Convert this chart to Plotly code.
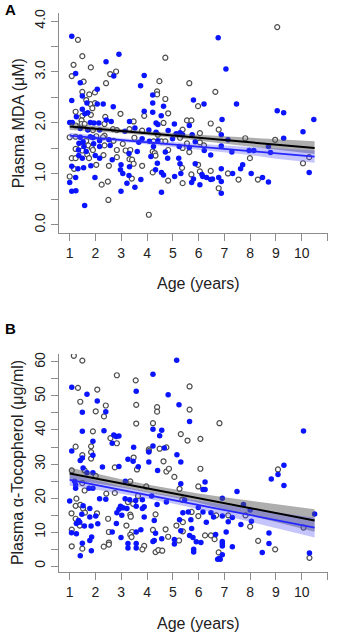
import plotly.graph_objects as go
from plotly.subplots import make_subplots

# ---------------- Panel A : Plasma MDA ----------------
a_gray_age = [1.32,1.49,1.15,1.82,1.08,2.57,2.80,1.54,2.41,1.49,1.76,1.98,1.64,1.81,1.98,1.88,1.23,1.82,1.49,2.38,2.97,1.23,1.46,1.46,1.58,2.35,3.48,1.90,2.68,2.83,3.32,1.00,1.23,2.03,2.35,2.70,3.51,1.64,2.29,1.42,1.72,2.35,3.06,1.23,1.49,1.86,1.90,2.83,3.17,3.35,1.08,1.23,1.68,1.75,2.31,2.83,3.32,3.42,1.17,2.03,2.52,3.48,1.00,3.41,2.48,2.24,2.50,
              4.71,4.48,5.64,6.65,4.39,4.39,4.71,5.98,4.82,3.89,5.55,5.72,4.64,6.47,6.78,5.38,3.81,4.42,6.05,5.28,4.25,4.56,4.71,5.55,6.05,6.21,5.38,4.22,4.82,5.64,4.30,4.33,3.81,5.36,5.98,4.22,6.05,6.47,5.72,4.82,5.38,6.78,4.07,
              9.05,7.81,8.97,7.99,10.29,10.05,7.14,7.55,8.30]
a_gray_mda = [3.63,3.31,3.14,3.09,2.92,2.96,3.01,2.81,2.78,2.61,2.56,2.60,2.45,2.37,2.39,2.29,2.22,2.16,2.14,2.12,2.18,1.95,2.05,1.98,1.98,1.98,2.03,1.86,1.88,1.86,1.88,1.72,1.73,1.74,1.75,1.65,1.71,1.65,1.72,1.54,1.56,1.56,1.59,1.49,1.46,1.51,1.47,1.47,1.46,1.47,1.31,1.31,1.38,1.31,1.37,1.33,1.29,1.28,1.10,1.18,1.16,1.20,0.95,0.91,0.85,0.79,0.49,
              3.28,2.82,2.78,2.61,2.62,2.56,2.47,2.33,2.19,2.14,2.05,2.05,2.00,1.99,1.87,1.87,1.85,1.77,1.80,1.71,1.64,1.64,1.64,1.60,1.62,1.56,1.51,1.44,1.47,1.43,1.41,1.36,1.16,1.12,1.18,1.03,1.05,1.06,0.99,0.87,0.82,0.72,0.20,
              3.88,1.70,1.67,1.31,1.33,1.21,1.01,0.89,0.89]

a_blue_age = [1.08,2.91,1.23,2.41,2.71,1.41,2.07,1.49,1.08,1.67,2.07,2.30,2.69,1.49,1.70,1.59,2.42,1.26,1.00,1.10,1.80,1.94,2.13,2.61,3.32,1.41,1.70,2.16,3.14,3.53,1.41,1.80,1.90,2.52,3.68,1.52,1.36,2.16,1.55,1.93,2.57,1.34,1.64,2.16,3.30,3.62,1.35,1.49,1.99,2.16,2.65,1.08,1.32,1.54,1.82,2.99,3.32,2.97,3.06,3.30,1.23,1.98,1.00,3.22,3.53,1.08,1.24,2.99,1.58,
              6.76,3.89,3.75,4.22,5.80,4.22,4.64,6.21,3.89,4.22,4.55,4.35,4.42,5.06,5.64,4.07,4.35,4.82,5.13,5.28,5.38,5.75,3.81,4.09,4.42,4.99,5.87,4.25,5.25,5.64,6.22,4.71,4.15,4.80,5.23,6.47,4.40,5.28,5.87,4.33,4.56,4.64,5.31,6.13,6.16,6.31,5.07,3.76,5.80,6.47,6.54,6.78,5.73,6.05,4.56,
              7.06,7.47,9.05,9.30,10.47,6.91,10.05,6.88,7.14,9.30,6.88,8.71,7.29,7.96,8.14,8.79,7.71,6.88,7.63,10.29,7.32,8.04,6.88,8.48,8.71,6.88]
a_blue_mda = [3.70,3.35,2.97,3.20,2.92,2.79,2.66,2.53,2.44,2.39,2.37,2.37,2.32,2.27,2.20,2.18,2.06,2.12,2.01,2.01,2.01,2.00,2.00,2.03,2.03,1.89,1.86,1.86,1.84,1.90,1.72,1.73,1.71,1.67,1.62,1.63,1.60,1.65,1.54,1.59,1.56,1.47,1.44,1.54,1.40,1.44,1.36,1.31,1.36,1.31,1.28,1.15,1.10,1.12,1.16,1.18,1.14,1.08,1.01,0.97,0.93,0.93,0.83,0.82,0.74,0.66,0.67,0.66,0.38,
              3.67,2.93,2.73,2.55,2.45,2.39,2.33,2.37,2.23,2.21,2.14,2.00,1.97,1.98,1.95,1.86,1.82,1.85,1.79,1.81,1.77,1.77,1.69,1.64,1.65,1.69,1.63,1.54,1.54,1.52,1.46,1.43,1.34,1.31,1.31,1.37,1.21,1.20,1.20,1.08,1.03,0.98,1.01,0.99,0.95,0.93,0.95,0.89,0.90,0.89,0.90,0.93,0.83,0.79,0.64,
              3.06,2.37,2.24,2.20,2.07,2.07,1.83,1.77,1.67,1.70,1.55,1.54,1.43,1.46,1.46,1.42,1.18,1.10,1.10,1.03,1.01,1.01,0.85,0.93,0.84,0.62]

# regression fits with 95% bands
fit_age = [1, 2, 3, 4, 5, 6, 7, 8, 9, 10.5]
a_gray_fit = [1.93, 1.886, 1.842, 1.798, 1.754, 1.71, 1.666, 1.622, 1.578, 1.51]
a_gray_hi = [2.00, 1.94, 1.88, 1.84, 1.80, 1.77, 1.74, 1.71, 1.68, 1.64]
a_gray_lo = [1.86, 1.84, 1.80, 1.76, 1.71, 1.66, 1.60, 1.54, 1.48, 1.39]
a_blue_fit = [1.75, 1.707, 1.664, 1.62, 1.577, 1.534, 1.49, 1.448, 1.405, 1.34]
a_blue_hi = [1.81, 1.75, 1.70, 1.66, 1.62, 1.59, 1.56, 1.53, 1.51, 1.46]
a_blue_lo = [1.69, 1.66, 1.63, 1.58, 1.53, 1.48, 1.42, 1.37, 1.30, 1.22]

# ---------------- Panel B : Plasma alpha-tocopherol ----------------
b_gray_age = [1.16,1.49,2.83,1.32,2.07,1.41,2.40,2.01,3.58,3.58,1.90,2.58,2.83,1.23,1.83,1.83,1.49,1.83,2.75,3.61,1.08,1.58,2.01,3.35,1.49,1.58,1.26,2.42,2.75,3.65,1.23,1.41,1.07,1.52,1.59,2.06,3.26,3.46,3.35,3.37,2.49,1.23,1.39,3.20,1.08,2.52,3.42,3.35,3.40,2.52,2.52,2.32,1.08,1.49,3.56,2.33,3.48,
              5.65,4.39,4.39,5.65,4.23,5.31,6.07,5.57,4.07,4.07,4.49,4.75,4.64,4.75,4.85,5.06,6.07,5.99,5.26,5.37,3.97,5.73,5.99,4.33,5.14,5.39,6.68,4.23,4.72,5.39,6.25,6.48,4.82,5.24,3.89,3.82,4.33,4.44,4.59,
              6.81,9.08,7.82,7.15,8.00,10.07,8.31,8.97,10.30,6.78,6.62]
b_gray_toc = [61.8,60.4,56.1,52.4,51.9,48.3,47.2,45.5,47.4,41.9,39.6,37.6,36.1,35.1,35.2,33.5,32.6,31.6,29.0,28.4,28.1,28.1,26.5,24.9,24.4,22.2,19.8,21.3,21.5,20.6,17.7,18.0,15.5,16.9,15.7,15.5,18.8,18.3,15.1,14.5,13.9,13.9,11.9,11.9,10.7,10.0,10.0,9.2,8.5,6.9,6.3,5.7,5.8,5.1,54.6,44.0,31.9,
              52.8,46.7,45.4,46.0,42.0,38.8,37.4,36.9,34.3,33.8,34.5,34.9,30.8,27.8,28.6,26.2,28.6,23.4,22.7,19.5,23.4,15.9,14.7,15.2,11.9,12.9,14.9,10.6,10.8,10.2,9.0,9.0,8.6,7.5,5.9,4.9,4.1,4.7,4.5,
              42.0,28.4,14.9,14.9,11.6,11.3,7.4,4.9,2.4,4.0,7.9]

b_blue_age = [1.08,1.67,3.58,2.07,2.40,1.49,1.49,2.33,2.71,2.91,2.80,1.90,2.65,3.48,1.08,3.26,1.41,1.49,2.91,3.46,1.52,1.67,1.90,2.27,3.16,1.19,1.23,1.23,1.75,1.90,1.00,2.16,2.40,3.15,3.33,3.56,1.52,1.78,1.47,1.78,2.01,2.97,3.07,2.91,3.22,2.83,3.02,3.58,1.34,1.39,1.26,1.57,1.83,2.09,2.81,1.26,1.07,2.65,3.58,1.85,1.78,2.99,1.49,3.26,3.26,3.58,3.58,1.84,1.41,1.90,3.66,
              5.15,4.23,4.82,5.24,5.65,4.23,4.57,4.49,4.23,4.67,5.16,4.07,5.31,4.41,5.31,6.25,6.17,6.25,4.18,5.46,3.82,4.75,4.39,5.39,5.60,5.99,6.17,6.48,3.89,3.82,3.89,4.28,5.26,5.70,6.30,6.58,3.76,4.33,5.31,5.73,5.65,5.78,6.66,4.28,4.57,5.06,5.06,5.91,6.09,4.23,5.81,5.81,6.74,4.07,
              10.07,9.31,9.08,8.82,9.31,7.49,6.92,7.74,8.00,10.50,6.92,7.31,7.15,8.05,7.64,7.07,8.73,6.92,6.92,8.73,6.92,7.31,8.47,6.92,10.30,6.84,6.80]
b_blue_toc = [52.6,50.5,51.4,48.5,45.4,45.2,39.6,39.8,38.5,38.2,38.1,36.7,36.1,34.9,33.8,31.4,31.0,31.8,29.3,30.8,28.8,27.4,27.4,29.1,24.9,24.9,23.9,22.9,22.9,22.9,19.1,19.8,19.6,19.8,19.5,19.3,17.7,16.9,15.2,14.4,14.7,17.6,17.1,16.7,16.9,15.7,14.9,17.6,13.4,12.9,12.5,11.8,11.8,12.4,12.5,9.5,9.8,10.0,10.0,8.5,7.5,8.4,6.7,6.6,5.3,6.6,5.3,4.5,3.0,32.6,29.2,
              60.5,56.4,50.4,47.4,42.5,40.2,39.9,38.3,35.3,34.7,32.7,30.6,30.6,28.1,24.2,24.7,22.5,22.5,20.6,19.4,19.5,18.8,18.1,15.7,15.9,17.2,15.9,15.7,17.4,16.9,14.4,13.4,13.6,13.6,12.9,14.4,10.7,9.6,10.4,11.0,9.0,8.4,9.3,7.5,8.0,7.8,6.5,7.1,6.9,7.2,4.9,4.1,2.0,33.5,
              39.7,29.6,26.9,25.6,23.7,21.9,19.9,18.1,16.5,15.3,14.7,14.3,13.0,13.2,12.2,10.0,9.7,7.2,6.6,6.6,5.9,5.7,4.0,3.3,3.8,2.0,2.2]

b_gray_fit = [27.2, 25.75, 24.3, 22.85, 21.4, 19.95, 18.5, 17.05, 15.6, 13.4]
b_gray_hi = [29.0, 27.15, 25.5, 23.95, 22.55, 21.3, 20.2, 19.15, 18.2, 16.7]
b_gray_lo = [25.4, 24.35, 23.1, 21.75, 20.25, 18.6, 16.8, 14.95, 13.0, 10.1]
b_blue_fit = [25.3, 23.83, 22.36, 20.89, 19.42, 17.95, 16.48, 15.01, 13.54, 11.3]
b_blue_hi = [27.0, 25.18, 23.46, 21.89, 20.47, 19.2, 18.03, 16.91, 15.84, 14.2]
b_blue_lo = [23.6, 22.48, 21.26, 19.89, 18.37, 16.7, 14.93, 13.11, 11.24, 8.4]

x_tickvals = list(range(1, 12))
x_ticktext = [str(v) for v in range(1, 11)] + [""]
a_tickvals = [0, 0.5, 1, 1.5, 2, 2.5, 3, 3.5, 4]
a_ticktext = ["0.0", "", "1.0", "", "2.0", "", "3.0", "", "4.0"]
b_tickvals = list(range(0, 61, 5))
b_ticktext = [str(v) if v % 10 == 0 else "" for v in b_tickvals]

BLUE = "#0a14ff"
GRAY_EDGE = "#4d4d4d"

fig = make_subplots(rows=2, cols=1)


def add_panel(row, g_age, g_val, b_age, b_val, g_fit, g_hi, g_lo, bl_fit, bl_hi, bl_lo):
    fig.add_trace(go.Scatter(x=g_age, y=g_val, mode="markers",
                             marker=dict(size=5, color="white", line=dict(color=GRAY_EDGE, width=1.2)),
                             showlegend=False, hoverinfo="skip"), row=row, col=1)
    fig.add_trace(go.Scatter(x=b_age, y=b_val, mode="markers",
                             marker=dict(size=5.5, color=BLUE, line=dict(width=0)),
                             showlegend=False, hoverinfo="skip"), row=row, col=1)
    fig.add_trace(go.Scatter(x=fit_age + fit_age[::-1], y=g_hi + g_lo[::-1], fill="toself",
                             fillcolor="rgba(85,85,85,0.48)", line=dict(width=0), mode="lines",
                             showlegend=False, hoverinfo="skip"), row=row, col=1)
    fig.add_trace(go.Scatter(x=fit_age + fit_age[::-1], y=bl_hi + bl_lo[::-1], fill="toself",
                             fillcolor="rgba(80,80,245,0.33)", line=dict(width=0), mode="lines",
                             showlegend=False, hoverinfo="skip"), row=row, col=1)
    fig.add_trace(go.Scatter(x=fit_age, y=bl_fit, mode="lines", line=dict(color="#2626ff", width=1.8),
                             showlegend=False, hoverinfo="skip"), row=row, col=1)
    fig.add_trace(go.Scatter(x=fit_age, y=g_fit, mode="lines", line=dict(color="black", width=2),
                             showlegend=False, hoverinfo="skip"), row=row, col=1)


add_panel(1, a_gray_age, a_gray_mda, a_blue_age, a_blue_mda,
          a_gray_fit, a_gray_hi, a_gray_lo, a_blue_fit, a_blue_hi, a_blue_lo)
add_panel(2, b_gray_age, b_gray_toc, b_blue_age, b_blue_toc,
          b_gray_fit, b_gray_hi, b_gray_lo, b_blue_fit, b_blue_hi, b_blue_lo)

axis_common = dict(showgrid=False, zeroline=False, showline=True, linecolor="#8c8c8c", linewidth=1.3,
                   ticks="outside", ticklen=7, tickcolor="#8c8c8c", tickwidth=1.3, automargin=False,
                   tickfont=dict(size=14, color="#222222"))

fig.update_xaxes(**axis_common, range=[0.585, 11.02], tickvals=x_tickvals, ticktext=x_ticktext)
fig.update_yaxes(**axis_common, tickangle=-90)
fig.update_yaxes(range=[-0.163, 4.157], tickvals=a_tickvals, ticktext=a_ticktext, row=1, col=1)
fig.update_yaxes(range=[-1.76, 62.35], tickvals=b_tickvals, ticktext=b_ticktext, row=2, col=1)

fig.update_layout(
    width=340, height=634,
    margin=dict(l=59, r=12, t=13, b=62, autoexpand=False),
    paper_bgcolor="white", plot_bgcolor="white",
    font=dict(family="Liberation Sans, Arial, sans-serif", color="#222222"),
    xaxis=dict(domain=[0, 1]), xaxis2=dict(domain=[0, 1]),
    yaxis=dict(domain=[0.606, 1.0]), yaxis2=dict(domain=[0.0, 0.390]),
)

ann_font = dict(family="Liberation Sans, Arial, sans-serif", size=16, color="#222222")
annotations = [
    dict(text="<b>A</b>", x=-0.208, y=1.007, xref="paper", yref="paper", xanchor="left", yanchor="middle",
         showarrow=False, font=dict(family="Liberation Sans, Arial, sans-serif", size=15, color="black")),
    dict(text="<b>B</b>", x=-0.208, y=(572 - 329) / 559, xref="paper", yref="paper", xanchor="left",
         yanchor="middle", showarrow=False,
         font=dict(family="Liberation Sans, Arial, sans-serif", size=15, color="black")),
    dict(text="Plasma MDA (μM)", x=-0.152, y=0.803, xref="paper", yref="paper", textangle=-90,
         xanchor="center", yanchor="middle", showarrow=False, font=ann_font),
    dict(text="Plasma α-Tocopherol (μg/ml)", x=-0.152, y=0.195, xref="paper", yref="paper", textangle=-90,
         xanchor="center", yanchor="middle", showarrow=False, font=ann_font),
    dict(text="Age (years)", x=0.519, y=(572 - 283) / 559, xref="paper", yref="paper",
         xanchor="center", yanchor="middle", showarrow=False, font=ann_font),
    dict(text="Age (years)", x=0.519, y=(572 - 623) / 559, xref="paper", yref="paper",
         xanchor="center", yanchor="middle", showarrow=False, font=ann_font),
]
fig.update_layout(annotations=annotations)

fig.write_html("out.html", config={"displayModeBar": False},
               post_script="document.body.style.margin='0px';document.body.style.overflow='hidden';")
